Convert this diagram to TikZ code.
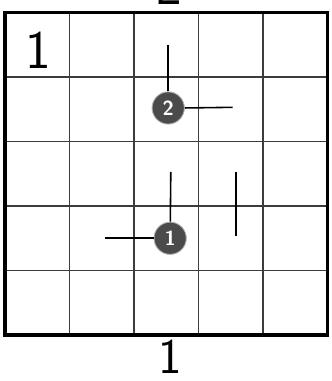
\documentclass[tikz,border=0pt]{standalone}
\usepackage{xcolor}
\usepackage{tikz}
\definecolor{gridgrey}{HTML}{3C3C3C}
\definecolor{discgrey}{HTML}{4B4B4B}
\usetikzlibrary{positioning}

\begin{document}
\begin{tikzpicture}[
  disc/.style={circle,fill=discgrey,draw=gray!60,line width=0.4pt,inner sep=0pt,
               minimum size=5mm,text=white,font=\sffamily\small\bfseries},
  hand/.style={font=\sffamily\fontsize{24}{24}\selectfont,inner sep=0pt},
  seg/.style={draw=black,line width=0.7pt}]
\useasboundingbox (-0.078,-0.713) rectangle (5.054,5.194);
% board
\draw[gridgrey,line width=0.6pt] (0,0) grid (5,5);
\draw[black,line width=1.4pt] (0,0) rectangle (5,5);
% handwritten clues
\node[hand] (rowclue) at (0.51,4.42) {1};
\node[hand] (topclue) at (2.55,5.40) {2};
\node[hand,font=\sffamily\fontsize{22}{22}\selectfont] (botclue) at (2.56,-0.34) {1};
% ends of the segments
\coordinate (up2) at (2.53,4.50);
\coordinate (rt2) at (3.53,3.53);
\coordinate (up1) at (2.57,2.53);
\coordinate (lf1) at (1.55,1.50);
\coordinate (sa) at (3.58,2.53);
\coordinate (sb) at (3.58,1.53);
% discs
\node[disc] (two) at (2.53,3.52) {2};
\node[disc] (one) at (2.56,1.50) {1};
\draw[seg] (two) -- (up2);
\draw[seg] (two.east) -- (rt2);
\draw[seg] (one) -- (up1);
\draw[seg] (one.west) -- (lf1);
\draw[seg] (sa) -- (sb);
\end{tikzpicture}
\end{document}
